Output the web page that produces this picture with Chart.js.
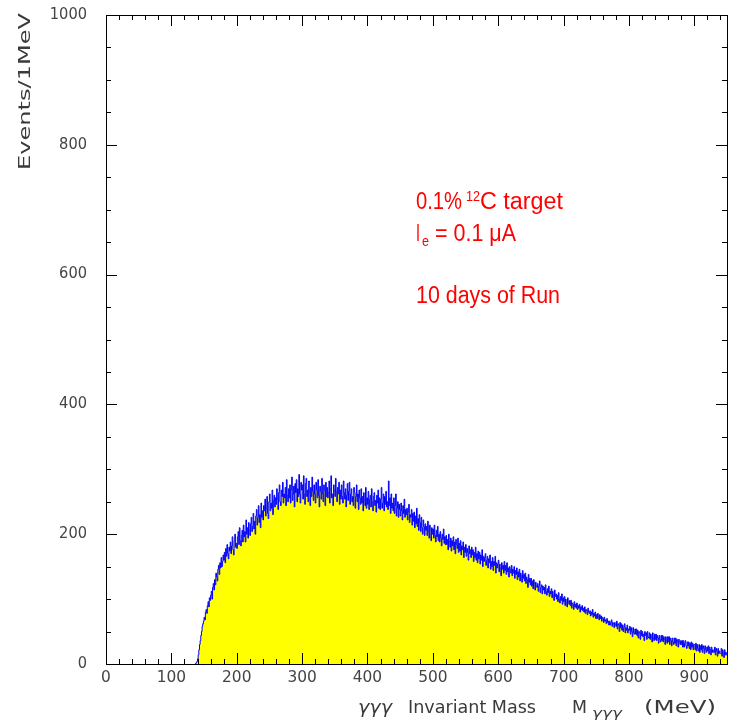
<!DOCTYPE html>
<html>
<head>
<meta charset="utf-8">
<script src="https://cdn.jsdelivr.net/npm/chart.js@4"></script>
<style>
  body { margin: 0; background: #fff; }
  canvas { display: block; }
</style>
</head>
<body>
<canvas id="massChart" width="736" height="720"></canvas>
<script>
// Histogram: gamma-gamma-gamma invariant mass, events per 1 MeV bin
const binStart = 136;   // MeV, left edge of first bin
const binWidth = 1;     // MeV
const counts = [
    0, 1, 2, 4,
    8, 14, 22, 30, 36, 44, 50, 58, 62, 66,
    72, 68, 80, 84, 78, 90, 96, 88, 102, 98,
    106, 112, 100, 118, 124, 114, 130, 122, 140, 134,
    128, 146, 152, 138, 156, 148, 164, 150, 158, 168,
    160, 172, 156, 178, 166, 184, 170, 162, 180, 174,
    188, 170, 182, 196, 176, 168, 190, 200, 180, 186,
    178, 196, 204, 184, 210, 190, 182, 198, 206, 188,
    214, 196, 204, 188, 222, 200, 210, 194, 218, 206,
    198, 216, 226, 204, 212, 232, 208, 220, 200, 228,
    238, 214, 226, 244, 218, 230, 210, 248, 226, 236,
    222, 244, 236, 254, 228, 240, 258, 232, 224, 250,
    262, 236, 248, 240, 268, 230, 252, 260, 242, 256,
    246, 270, 254, 238, 264, 276, 250, 244, 268, 258,
    280, 248, 262, 256, 272, 244, 284, 260, 250, 270,
    256, 276, 248, 268, 288, 252, 262, 274, 242, 278,
    264, 284, 250, 270, 258, 292, 262, 248, 280, 268,
    276, 254, 290, 262, 246, 278, 286, 258, 268, 250,
    282, 264, 244, 272, 258, 288, 266, 252, 276, 262,
    248, 280, 268, 256, 284, 260, 242, 274, 266, 254,
    286, 262, 250, 276, 268, 244, 280, 258, 272, 256,
    264, 282, 248, 270, 290, 256, 262, 244, 276, 268,
    258, 286, 266, 250, 272, 262, 280, 246, 268, 254,
    276, 258, 248, 282, 264, 254, 270, 242, 260, 278,
    252, 266, 280, 246, 262, 270, 250, 258, 244, 272,
    264, 240, 258, 276, 250, 262, 238, 268, 256, 246,
    270, 248, 258, 236, 264, 252, 244, 272, 240, 256,
    246, 266, 238, 254, 260, 242, 270, 250, 236, 258,
    264, 244, 252, 234, 260, 248, 268, 240, 256, 238,
    254, 272, 240, 248, 262, 236, 258, 246, 266, 242,
    250, 238, 282, 244, 256, 232, 262, 240, 248, 236,
    256, 232, 244, 262, 228, 240, 250, 226, 246, 238,
    228, 248, 236, 222, 244, 232, 254, 226, 238, 230,
    240, 222, 234, 246, 218, 230, 226, 238, 214, 232,
    220, 234, 210, 228, 216, 240, 212, 224, 206, 230,
    218, 204, 226, 210, 200, 222, 212, 198, 216, 206,
    212, 198, 220, 204, 194, 214, 206, 190, 210, 200,
    208, 194, 214, 198, 188, 206, 196, 212, 190, 200,
    188, 204, 194, 182, 200, 192, 208, 186, 196, 184,
    198, 184, 192, 176, 200, 188, 180, 194, 174, 190,
    182, 196, 176, 188, 170, 192, 184, 178, 194, 172,
    186, 174, 190, 168, 182, 176, 188, 164, 180, 172,
    184, 166, 178, 172, 160, 182, 170, 176, 164, 180,
    168, 176, 158, 172, 164, 180, 160, 170, 156, 174,
    162, 172, 154, 168, 160, 176, 150, 166, 158, 164,
    170, 152, 160, 166, 148, 162, 156, 168, 146, 158,
    150, 164, 144, 158, 152, 166, 140, 156, 148, 154,
    160, 142, 154, 148, 136, 156, 146, 152, 140, 158,
    144, 152, 138, 156, 142, 148, 134, 150, 146, 140,
    152, 136, 146, 140, 150, 132, 144, 138, 148, 130,
    142, 134, 146, 128, 140, 136, 126, 144, 132, 138,
    128, 140, 124, 134, 130, 118, 138, 126, 132, 122,
    132, 120, 128, 116, 130, 124, 114, 126, 120, 118,
    124, 112, 120, 128, 110, 118, 122, 108, 120, 114,
    118, 108, 122, 112, 106, 116, 110, 120, 104, 112,
    108, 116, 102, 112, 106, 98, 114, 104, 108, 100,
    106, 96, 110, 100, 94, 104, 98, 108, 92, 102,
    96, 104, 90, 100, 94, 88, 102, 96, 92, 98,
    90, 98, 86, 94, 92, 84, 96, 88, 92, 86,
    94, 84, 90, 86, 92, 80, 88, 84, 90, 82,
    86, 80, 88, 78, 84, 82, 76, 86, 80, 78,
    82, 74, 80, 76, 84, 72, 78, 74, 80, 70,
    76, 70, 78, 72, 68, 76, 70, 74, 66, 72,
    70, 64, 72, 66, 68, 62, 70, 64, 66, 60,
    66, 60, 64, 68, 58, 64, 62, 56, 64, 60,
    58, 66, 54, 62, 60, 50, 64, 56, 62, 52,
    60, 50, 56, 62, 48, 56, 52, 60, 48, 54,
    52, 58, 46, 56, 50, 42, 56, 48, 46, 54,
    46, 54, 44, 52, 40, 50, 48, 38, 52, 44,
    50, 42, 46, 36, 50, 44, 48, 38, 50, 42,
    40, 48, 38, 46, 42, 34, 48, 40, 36, 46,
    38, 46, 36, 44, 40, 32, 44, 38, 34, 44,
    36, 44, 34, 42, 38, 30, 42, 36, 32, 42,
    34, 42, 30, 40, 36, 28, 40, 34, 30, 40,
    32, 40, 28, 38, 34, 26, 38, 34, 30, 36,
    30, 36, 26, 36, 26, 32, 36, 28, 24, 34,
    28, 34, 24, 32, 22, 34, 26, 32, 22, 30,
    30, 22, 32, 20, 30, 24, 20, 30, 18, 28,
    22, 30, 18, 28, 24, 16, 28, 22, 18, 26,
    20, 28, 16, 26, 22, 14, 26, 18, 22, 18,
    18, 26, 14, 24, 20, 12, 24, 16, 20, 16,
    16, 24, 12, 22, 18, 10, 22, 14, 18, 14
];

// Axis tick labels
const xTicks = [0, 100, 200, 300, 400, 500, 600, 700, 800, 900];
const yTicks = [0, 200, 400, 600, 800, 1000];
const xMinorStep = 20;
const yMinorStep = 50;
const xMax = 950;
const yMax = 1000;

// Build step points (left bin edges, plus closing edge)
function buildPoints() {
    const pts = counts.map((c, i) => ({ x: binStart + i * binWidth, y: c }));
    pts.push({ x: binStart + counts.length * binWidth, y: counts[counts.length - 1] });
    return pts;
}

// draw text squeezed/stretched horizontally to a target width, starting at x
function fitText(ctx, text, x, y, width) {
    const w = ctx.measureText(text).width;
    ctx.save();
    ctx.translate(x, y);
    ctx.scale(width / w, 1);
    ctx.textAlign = 'left';
    ctx.fillText(text, 0, 0);
    ctx.restore();
}

const framePlugin = {
    id: 'higzFrame',
    afterDraw(chart) {
        const ctx = chart.ctx;
        const area = chart.chartArea;
        const xs = chart.scales.x;
        const ys = chart.scales.y;
        ctx.save();

        // frame
        ctx.strokeStyle = '#000';
        ctx.lineWidth = 1;
        ctx.strokeRect(Math.round(area.left) + 0.5, Math.round(area.top) + 0.5,
            Math.round(area.right - area.left), Math.round(area.bottom - area.top));

        // ticks, pointing inward on all four sides
        ctx.beginPath();
        for (let v = 0; v <= xMax; v += xMinorStep) {
            const len = v % 100 === 0 ? 11 : 5;
            const px = Math.round(xs.getPixelForValue(v)) + 0.5;
            ctx.moveTo(px, area.bottom); ctx.lineTo(px, area.bottom - len);
            ctx.moveTo(px, area.top); ctx.lineTo(px, area.top + len);
        }
        for (let v = 0; v <= yMax; v += yMinorStep) {
            const len = v % 200 === 0 ? 11 : 5;
            const py = Math.round(ys.getPixelForValue(v)) + 0.5;
            ctx.moveTo(area.left, py); ctx.lineTo(area.left + len, py);
            ctx.moveTo(area.right, py); ctx.lineTo(area.right - len, py);
        }
        ctx.stroke();

        // tick labels (wide Higz-like digits)
        ctx.fillStyle = '#444';
        ctx.font = '15px "DejaVu Sans"';
        ctx.textBaseline = 'middle';
        xTicks.forEach(v => {
            const s = String(v), w = s.length * 9.8;
            fitText(ctx, s, xs.getPixelForValue(v) - w / 2, area.bottom + 14, w);
        });
        yTicks.forEach(v => {
            const s = String(v), w = s.length * 9.3;
            fitText(ctx, s, area.left - 19 - w, ys.getPixelForValue(v), w);
        });

        // y axis title, rotated, reading upward
        ctx.fillStyle = '#3a3a3a';
        ctx.textBaseline = 'alphabetic';
        ctx.save();
        ctx.translate(30, 170);
        ctx.rotate(-Math.PI / 2);
        ctx.font = '16px "DejaVu Sans"';
        fitText(ctx, 'Events/1MeV', 0, 0, 157);
        ctx.restore();

        // x axis title
        ctx.font = 'italic 17px "DejaVu Sans"';
        fitText(ctx, 'γγγ', 358, 713, 34);
        ctx.font = '17px "DejaVu Sans"';
        fitText(ctx, 'Invariant Mass', 408, 713, 128);
        fitText(ctx, 'M', 572, 713, 15);
        ctx.font = 'italic 12px "DejaVu Sans"';
        fitText(ctx, 'γγγ', 592, 717, 30);
        ctx.font = '17px "DejaVu Sans"';
        fitText(ctx, '(MeV)', 644, 713, 72);

        // annotation
        ctx.fillStyle = '#ff0000';
        ctx.font = '23px "Liberation Sans"';
        fitText(ctx, '0.1%', 416, 209, 46);
        ctx.font = '14px "Liberation Sans"';
        fitText(ctx, '12', 466, 201, 14);
        ctx.font = '23px "Liberation Sans"';
        fitText(ctx, 'C target', 480, 209, 83);
        fitText(ctx, 'I', 416, 241, 4);
        ctx.font = '14px "Liberation Sans"';
        fitText(ctx, 'e', 422, 246, 7);
        ctx.font = '23px "Liberation Sans"';
        fitText(ctx, '= 0.1 μA', 435, 241, 81);
        fitText(ctx, '10 days of Run', 416, 303, 144);

        ctx.restore();
    }
};

const ctx = document.getElementById('massChart').getContext('2d');
const massChart = new Chart(ctx, {
    type: 'line',
    data: {
        datasets: [{
            data: buildPoints(),
            stepped: 'before',
            borderColor: '#0000ff',
            borderWidth: 1,
            backgroundColor: '#ffff00',
            fill: 'origin',
            pointRadius: 0,
            tension: 0
        }]
    },
    options: {
        responsive: false,
        animation: false,
        devicePixelRatio: 1,
        layout: { padding: { left: 106, top: 15, right: 9, bottom: 56 } },
        plugins: {
            legend: { display: false },
            tooltip: { enabled: false }
        },
        scales: {
            x: { type: 'linear', min: 0, max: xMax, display: false },
            y: { type: 'linear', min: 0, max: yMax, display: false }
        }
    },
    plugins: [framePlugin]
});
</script>
</body>
</html>
